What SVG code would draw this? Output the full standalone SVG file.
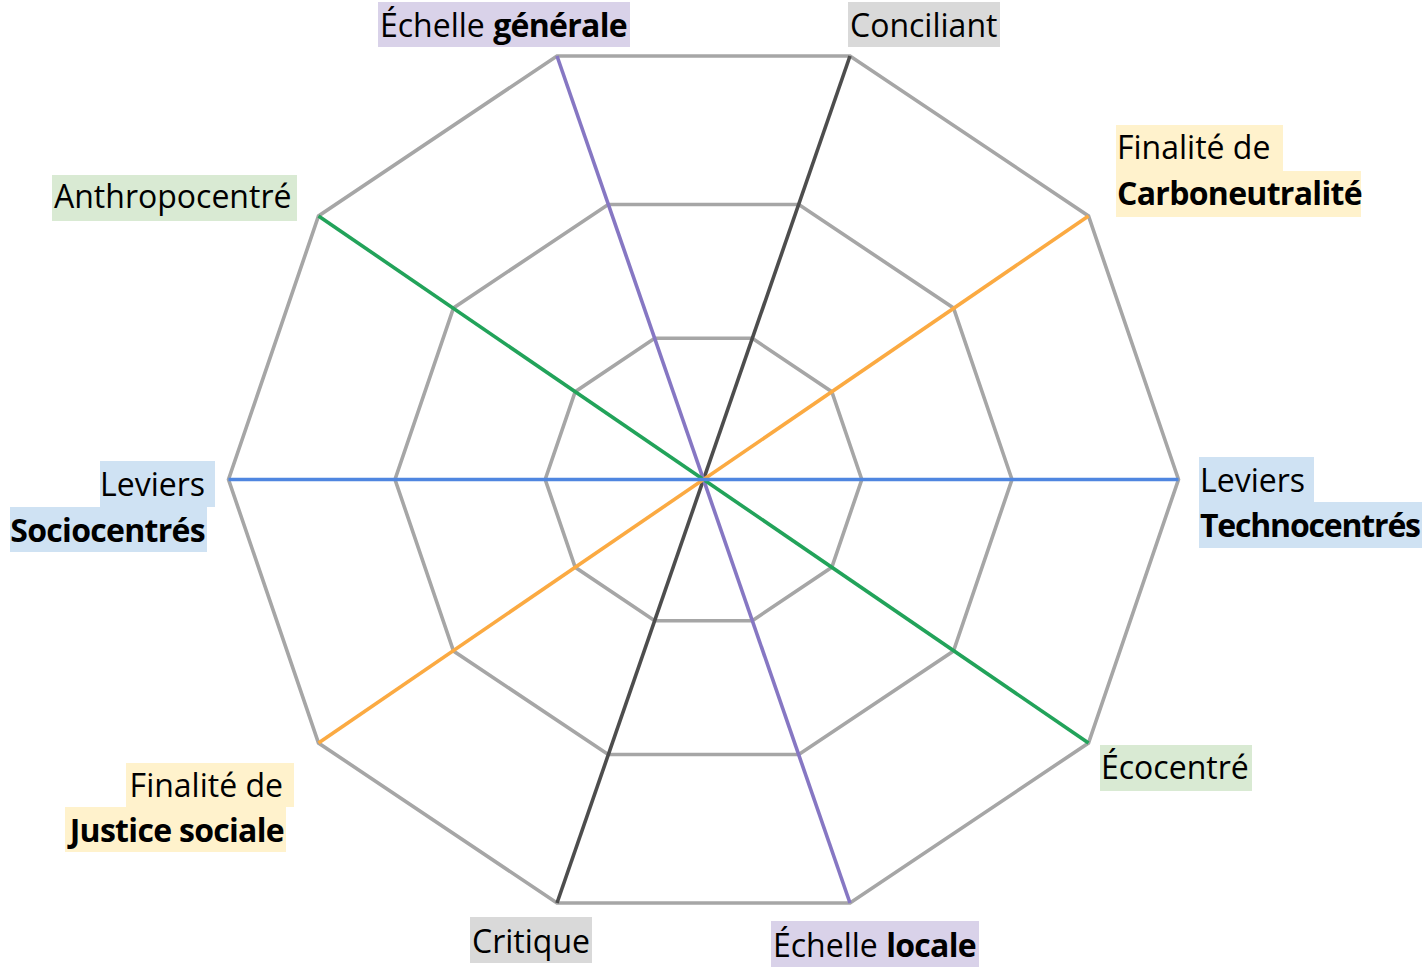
<svg xmlns="http://www.w3.org/2000/svg" width="1422" height="968" viewBox="0 0 1422 968">
<style>
.grid{fill:none;stroke:#a6a6a6;stroke-width:3.6;stroke-linejoin:miter}
.spoke{stroke-width:3.6;fill:none}
.t{font-family:"Open Sans","Noto Sans","Liberation Sans",sans-serif;font-size:32px;fill:#000}
.b{font-weight:bold;letter-spacing:-0.7px}
.violet{fill:#D9D2E9}.grey{fill:#D9D9D9}.cream{fill:#FFF2CC}.green{fill:#D9EAD3}.blue{fill:#CFE2F3}
</style>
<rect width="1422" height="968" fill="#fff"/>
<g id="grid">
<polygon class="grid" points="1178.5,479.5 1088.5,216 850,56 557,56 318.5,216 228.5,479.5 318.5,743 557,903 850,903 1088.5,743"/>
<polygon class="grid" points="1012,479.5 953.5,308 798.8,204.5 608.2,204.5 453.5,308 395,479.5 453.5,651 608.2,754.5 798.8,754.5 953.5,651"/>
<polygon class="grid" points="861.8,479.5 831.8,391.7 752.3,338.3 654.7,338.3 575.2,391.7 545.2,479.5 575.2,567.3 654.7,620.7 752.3,620.7 831.8,567.3"/>
</g>
<g id="connectors">
<line class="spoke" stroke="#4d4d4d" x1="850" y1="56" x2="557" y2="903"/>
<line class="spoke" stroke="#8677C3" x1="557" y1="56" x2="850" y2="903"/>
<line class="spoke" stroke="#22A35A" x1="318.5" y1="216" x2="1088.5" y2="743"/>
<line class="spoke" stroke="#FBAA42" x1="318.5" y1="743" x2="1088.5" y2="216"/>
<line class="spoke" stroke="#4F86E0" x1="228.5" y1="479.5" x2="1178.5" y2="479.5"/>
</g>
<g id="echelle-generale">
<rect class="violet" x="378" y="2" width="252" height="45"/>
<text class="t" x="380" y="37">Échelle <tspan class="b">générale</tspan></text>
</g>
<g id="conciliant">
<rect class="grey" x="848" y="2" width="152" height="45"/>
<text class="t" x="850" y="37">Conciliant</text>
</g>
<g id="carboneutralite">
<rect class="cream" x="1116" y="125" width="167" height="46"/>
<rect class="cream" x="1116" y="171" width="245" height="46"/>
<text class="t" x="1117" y="159">Finalité de</text>
<text class="t b" x="1117" y="205">Carboneutralité</text>
</g>
<g id="anthropocentre">
<rect class="green" x="52" y="175" width="245" height="46"/>
<text class="t" x="54" y="208" fill="#222">Anthropocentré</text>
</g>
<g id="sociocentres">
<rect class="blue" x="100" y="461" width="115" height="46"/>
<rect class="blue" x="10" y="507" width="197" height="45"/>
<text class="t" x="205" y="496" text-anchor="end">Leviers</text>
<text class="t b" x="205" y="542" text-anchor="end">Sociocentrés</text>
</g>
<g id="technocentres">
<rect class="blue" x="1199" y="457" width="115" height="45"/>
<rect class="blue" x="1199" y="502" width="223" height="46"/>
<text class="t" x="1200" y="492">Leviers</text>
<text class="t b" x="1200" y="537" style="letter-spacing:-1.2px">Technocentrés</text>
</g>
<g id="ecocentre">
<rect class="green" x="1100" y="745" width="152" height="46"/>
<text class="t" x="1101" y="779">Écocentré</text>
</g>
<g id="justice-sociale">
<rect class="cream" x="126" y="763" width="168" height="44"/>
<rect class="cream" x="65" y="807" width="221" height="45"/>
<text class="t" x="283" y="797" text-anchor="end">Finalité de</text>
<text class="t b" x="284" y="842" text-anchor="end">Justice sociale</text>
</g>
<g id="critique">
<rect class="grey" x="470" y="917" width="122" height="46"/>
<text class="t" x="472" y="953">Critique</text>
</g>
<g id="echelle-locale">
<rect class="violet" x="771" y="921" width="208" height="46"/>
<text class="t" x="773" y="957">Échelle <tspan class="b">locale</tspan></text>
</g>
</svg>
